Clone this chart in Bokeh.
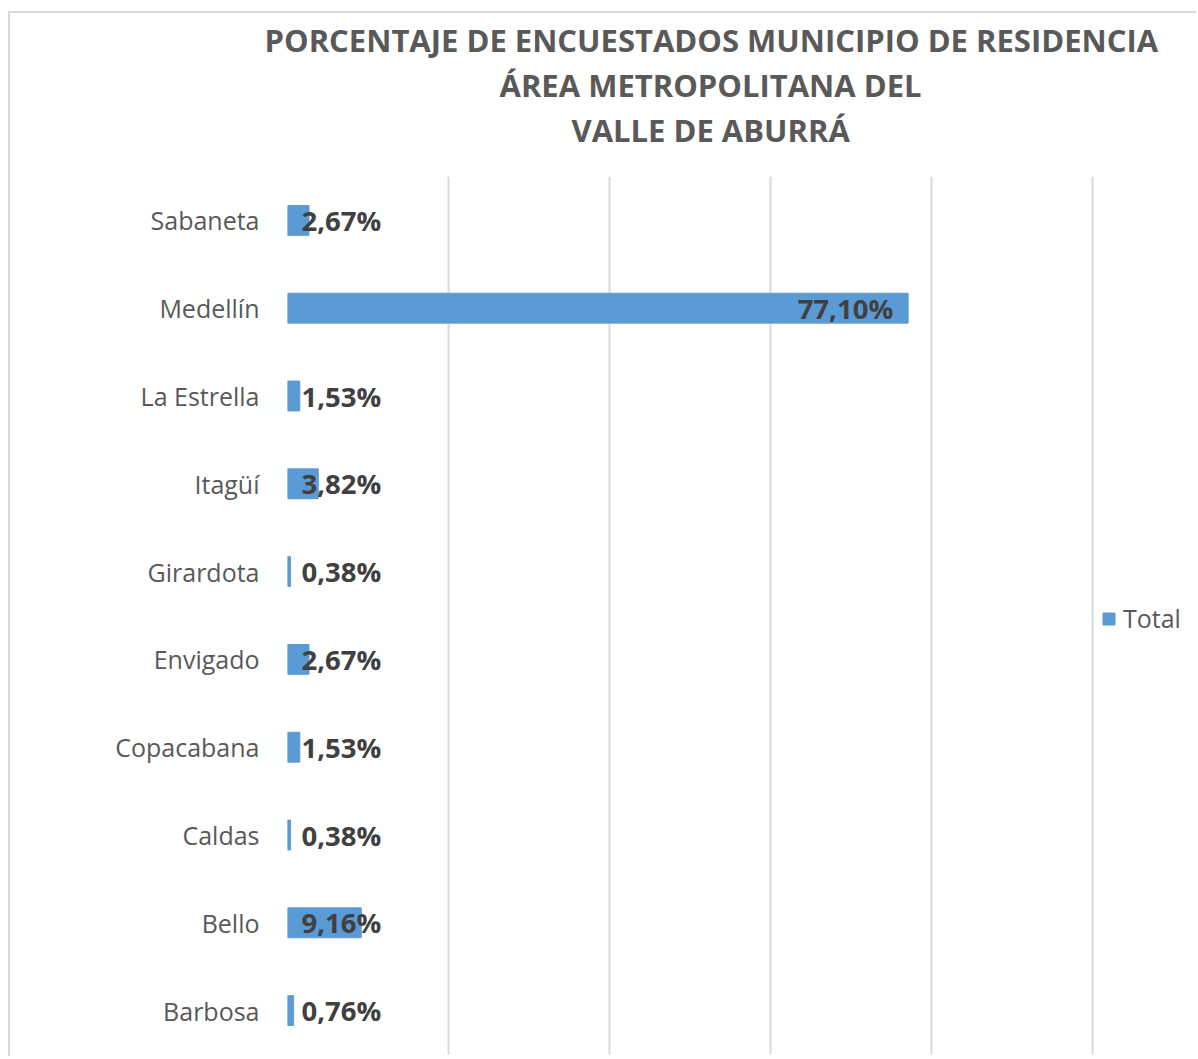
from bokeh.plotting import figure
from bokeh.models import Legend, LegendItem, ColumnDataSource, Grid, FixedTicker, Title
from bokeh.core.properties import value
from bokeh.embed import file_html
from bokeh.resources import INLINE

municipios = ["Barbosa", "Bello", "Caldas", "Copacabana", "Envigado", "Girardota",
              "Itagüí", "La Estrella", "Medellín", "Sabaneta"]
porcentajes = [0.76, 9.16, 0.38, 1.53, 2.67, 0.38, 3.82, 1.53, 77.10, 2.67]
etiquetas = ["0,76%", "9,16%", "0,38%", "1,53%", "2,67%", "0,38%", "3,82%", "1,53%", "77,10%", "2,67%"]
x_ticks = [0, 20, 40, 60, 80, 100]
titulo = ["PORCENTAJE DE ENCUESTADOS MUNICIPIO DE RESIDENCIA",
          "ÁREA METROPOLITANA DEL",
          "VALLE DE ABURRÁ"]
serie = "Total"

FONT = "Open Sans"
GREY = "#595959"
BAR = "#5B9BD5"

inside = [v > 20 for v in porcentajes]
src = ColumnDataSource(dict(
    cat=municipios,
    val=porcentajes,
    lab=etiquetas,
    lx=[v if i else 0 for v, i in zip(porcentajes, inside)],
    align=["right" if i else "left" for i in inside],
    xoff=[-15 if i else 14 for i in inside],
))

# plot area spans 805 px for 0..100; the frame continues to the right edge for the legend
FRAME_W = 907
p = figure(y_range=municipios, x_range=(0, x_ticks[-1] * FRAME_W / 805), width=1196, height=1056,
           output_backend="svg", toolbar_location=None, x_axis_location=None)
p.title = None
p.min_border_left = 287
p.min_border_right = 1196 - 287 - FRAME_W
p.min_border_bottom = 2
p.min_border_top = 176
p.outline_line_color = None
p.border_fill_alpha = 0
p.styles = {"box-shadow": ("inset 0 11px 0 0 #ffffff, inset 8px 0 0 0 #ffffff, "
                           "inset 0 13px 0 0 #d9d9d9, inset 10px 0 0 0 #d9d9d9")}

p.ygrid.visible = False
p.add_layout(Grid(dimension=0, ticker=FixedTicker(ticks=x_ticks),
                  grid_line_color="#d9d9d9", grid_line_width=2))

r = p.hbar(y="cat", right="val", height=0.34, source=src, fill_color=BAR, line_color=BAR)

p.text(x="lx", y="cat", text="lab", source=src, text_align="align", x_offset="xoff",
       text_baseline="middle", text_font=value(FONT), text_font_style="bold",
       text_font_size="27.5px", text_color="#404040")

yax = p.yaxis[0]
yax.axis_line_color = None
yax.major_tick_line_color = None
yax.minor_tick_line_color = None
yax.major_label_text_font = FONT
yax.major_label_text_font_size = "25px"
yax.major_label_text_color = GREY
yax.major_label_standoff = 22

# spacer between the title block and the plot area
p.add_layout(Title(text=" ", text_font_size="1px", standoff=22), "above")
# title lines, added nearest-to-plot first
for line, off, stand in [(titulo[2], 284, 1), (titulo[1], 212, 1), (titulo[0], -23, 1)]:
    t = Title(text=line, align="left", offset=off, standoff=stand, text_font=FONT,
              text_font_style="bold", text_font_size="31px", text_color=GREY)
    p.add_layout(t, "above")

legend = Legend(items=[LegendItem(label=serie, renderers=[r])], location=(814, 419),
                border_line_color=None, background_fill_alpha=0, glyph_width=15, glyph_height=15,
                label_text_font=FONT, label_text_font_size="25px", label_text_color=GREY,
                padding=0, margin=0, label_standoff=7)
p.add_layout(legend)

open("out.html", "w").write(file_html(p, INLINE))
